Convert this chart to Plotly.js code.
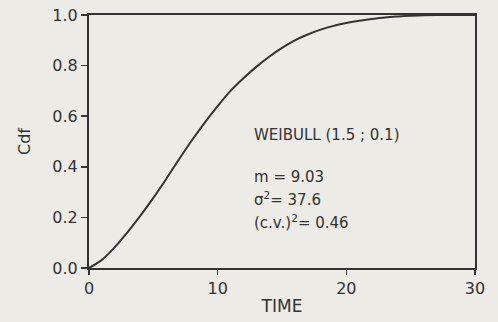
<!DOCTYPE html>
<html>
<head>
<meta charset="utf-8">
<script src="https://cdn.plot.ly/plotly-3.0.1.min.js"></script>
<style>
html,body{margin:0;padding:0;background:#ecebe5;}
#chart{width:498px;height:322px;}
</style>
</head>
<body>
<div id="chart"></div>
<script>
// Values
const time = [0,1,2,3,4,5,6,7,8,9,10,11,12,13,14,15,16,17,18,19,20,21,22,23,24,25,26,27,28,29,30];
const cdf  = [0,0.032,0.082,0.142,0.207,0.277,0.352,0.43,0.505,0.575,0.64,0.70,0.75,0.795,0.835,0.87,0.90,0.923,0.942,0.957,0.968,0.977,0.984,0.99,0.994,0.997,0.999,1.0,1.0,1.0,1.0];
const xTicks = [0,10,20,30];
const yTicks = [0,0.2,0.4,0.6,0.8,1.0];
const yTickText = ["0.0","0.2","0.4","0.6","0.8","1.0"];
const labels = ["WEIBULL (1.5 ; 0.1)", "m = 9.03", "σ<sup>2</sup>= 37.6", "(c.v.)<sup>2</sup>= 0.46"];
const labelY = [0.525, 0.36, 0.273, 0.183];

const ink = '#333333';
const font = {family:'DejaVu Sans, sans-serif', color:ink};

const data = [{
  x: time, y: cdf, type:'scatter', mode:'lines',
  line:{color:ink, width:2, shape:'spline', smoothing:1},
  hoverinfo:'skip', showlegend:false
}];

const layout = {
  width:498, height:322,
  margin:{l:89, r:23, t:15, b:54},
  paper_bgcolor:'#ecebe5', plot_bgcolor:'#ecebe5',
  font: Object.assign({size:14}, font),
  xaxis:{
    range:[0,30], tickvals:xTicks, ticktext:xTicks.map(String),
    showgrid:false, zeroline:false, showline:true, mirror:true,
    linecolor:ink, linewidth:2, ticks:'outside', ticklen:5, tickwidth:1.5, tickcolor:ink,
    tickfont:Object.assign({size:16}, font),
    title:{text:'TIME', font:Object.assign({size:17}, font), standoff:3}
  },
  yaxis:{
    range:[0,1], tickvals:yTicks, ticktext:yTickText,
    showgrid:false, zeroline:false, showline:true, mirror:true,
    linecolor:ink, linewidth:2, ticks:'outside', ticklen:6, tickwidth:1.5, tickcolor:ink,
    tickfont:Object.assign({size:16}, font),
    title:{text:'Cdf', font:Object.assign({size:16}, font), standoff:18}
  },
  annotations: labels.map((t,i)=>({
    text:t, x:12.7, y:labelY[i], xref:'x', yref:'y',
    xanchor:'left', yanchor:'middle', showarrow:false,
    font:Object.assign({size:15}, font)
  }))
};

Plotly.newPlot('chart', data, layout, {displayModeBar:false, staticPlot:true});
</script>
</body>
</html>
